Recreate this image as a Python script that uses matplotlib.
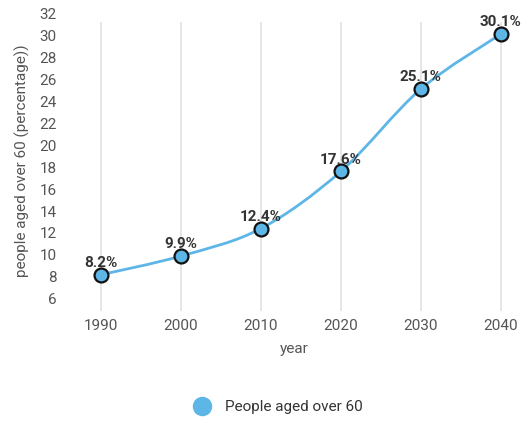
import numpy as np
import matplotlib
matplotlib.use("Agg")
import matplotlib.pyplot as plt
from matplotlib.path import Path
from matplotlib.patches import PathPatch
from matplotlib.lines import Line2D

plt.rcParams['font.family'] = ['Roboto', 'DejaVu Sans']

years = [1990, 2000, 2010, 2020, 2030, 2040]
share_over_60 = [8.2, 9.9, 12.4, 17.6, 25.1, 30.1]
point_labels = ["8.2%", "9.9%", "12.4%", "17.6%", "25.1%", "30.1%"]
y_ticks = list(range(6, 33, 2))
series_name = "People aged over 60"

blue = "#5db6e6"
tick_grey = "#555555"

fig = plt.figure(figsize=(5.22, 4.21), dpi=100)
ax = fig.add_axes([68 / 522, 1 - 311 / 421, 452 / 522, 300 / 421])
ax.set_xlim(1985.9, 2042.4)
ax.set_ylim(4.9, 32.2)

# category lines, stopping a little short of the top tick
ax.vlines(years, 4.9, 31.2, color="#e2e2e2", lw=1.2, zorder=0)

# smooth line through the points: Catmull-Rom turned into cubic Bezier segments
x = np.array(years, dtype=float)
y = np.array(share_over_60, dtype=float)
pts = np.column_stack([x, y])
verts = [pts[0]]
codes = [Path.MOVETO]
for i in range(len(pts) - 1):
    p0 = pts[i - 1] if i > 0 else pts[i]
    p1 = pts[i]
    p2 = pts[i + 1]
    p3 = pts[i + 2] if i + 2 < len(pts) else pts[i + 1]
    c1 = p1 + (p2 - p0) / 6
    c2 = p2 - (p3 - p1) / 6
    verts += [c1, c2, p2]
    codes += [Path.CURVE4] * 3
ax.add_patch(PathPatch(Path(verts, codes), facecolor="none", edgecolor=blue,
                       lw=2.0, zorder=2))

ax.plot(x, y, "o", ms=10, mfc=blue, mec="#111111", mew=1.6, zorder=3)

for xi, yi, lab in zip(years, share_over_60, point_labels):
    ax.annotate(lab, (xi, yi), xytext=(0, 3.5), textcoords="offset points",
                ha="center", va="bottom", fontsize=11, fontweight="bold",
                color="#333333", zorder=4)

ax.set_yticks(y_ticks)
ax.set_xticks(years)
ax.tick_params(length=0, labelsize=11, labelcolor=tick_grey)
ax.tick_params(axis="y", pad=8)
ax.tick_params(axis="x", pad=6)
for s in ax.spines.values():
    s.set_visible(False)

ax.set_xlabel("year", fontsize=11, color=tick_grey, labelpad=6)
ax.set_ylabel("people aged over 60 (percentage))", fontsize=11, color=tick_grey)
ax.yaxis.set_label_coords(-38 / 452, 0.5)

handle = Line2D([], [], marker="o", ls="none", ms=13, mfc=blue, mec=blue)
fig.legend([handle], [series_name], loc="center", bbox_to_anchor=(275 / 522, 1 - 407 / 421),
           frameon=False, fontsize=11, handletextpad=0.5, labelcolor="#333333")

fig.savefig("out.png", dpi=100)
